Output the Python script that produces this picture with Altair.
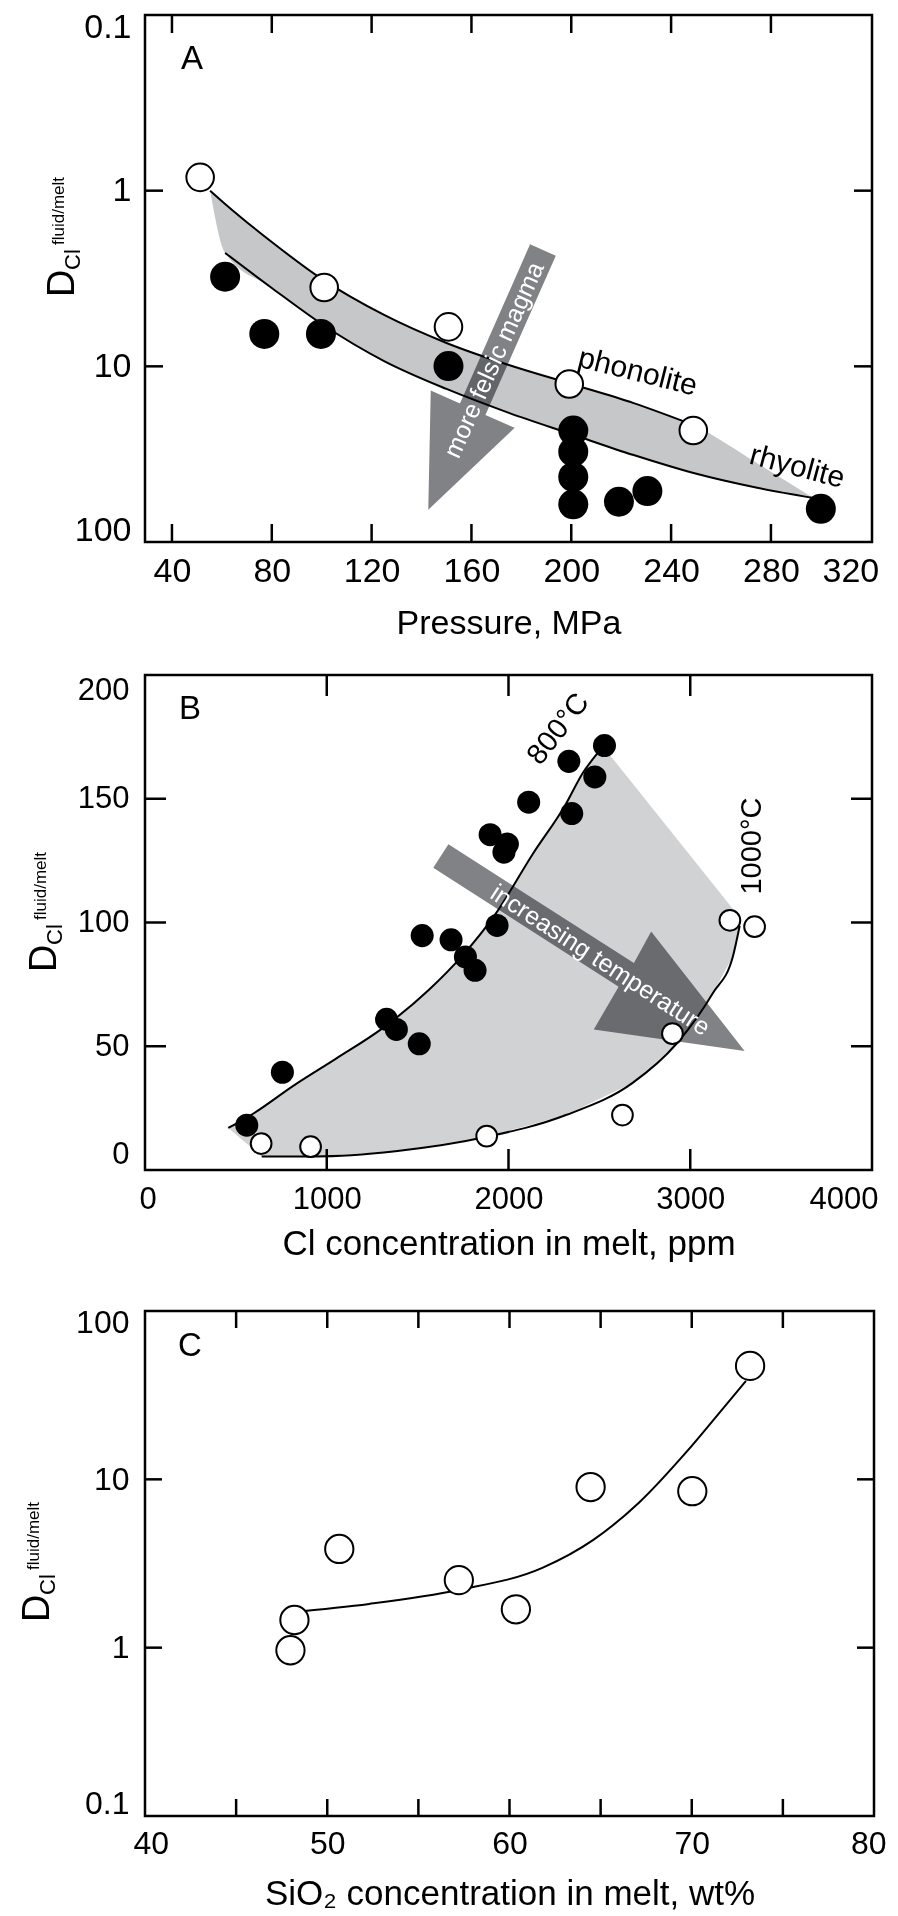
import altair as alt
import pandas as pd

FONT = "Liberation Sans, Arial, Helvetica, sans-serif"
ARROW = "#808285"
LW = 2.5

# ---------------- Panel A data ----------------
a_open_p = [51.3, 101.0, 150.8, 199.2, 248.9]
a_open_d = [0.84, 3.56, 5.96, 12.6, 23.2]
a_fill_p = [61.3, 77.0, 99.7, 150.8, 200.8, 200.8, 200.8, 200.8, 219.1, 230.5, 300.0]
a_fill_d = [3.09, 6.54, 6.54, 9.96, 23.2, 30.6, 42.6, 61.0, 59.0, 51.3, 64.7]
a_band_p = [55.3, 61.3, 80, 100, 125, 150, 175, 200, 225, 249, 275, 297]
a_band_up = [1.00, 1.19, 1.96, 3.18, 5.10, 7.36, 9.83, 12.6, 16.2, 21.6, 36.0, 56.2]
a_band_lo = [1.00, 2.26, 3.58, 5.74, 9.33, 13.45, 18.4, 24.3, 32.0, 40.5, 49.3, 56.2]
a_arrow_p = [193.8, 183.5, 155.4, 143.7, 142.7, 177.3, 165.6, 193.8]
a_arrow_d = [2.345, 2.018, 16.27, 13.74, 65.6, 22.4, 18.9, 2.345]
a_xticks = [40, 80, 120, 160, 200, 240, 280]
a_xlabels = [40, 80, 120, 160, 200, 240, 280, 320]
a_yticks = [1, 10]
a_ylabels = [0.1, 1, 10, 100]

# ---------------- Panel B data ----------------
b_fill_x = [560, 756, 1329, 1383, 1509, 1525, 1684, 1763, 1816, 1899, 1994, 1975, 1937, 2111, 2332, 2348, 2475, 2528]
b_fill_y = [18.1, 39.5, 60.9, 56.8, 51.0, 94.7, 93.0, 86.1, 80.7, 135.5, 131.7, 128.4, 98.8, 148.6, 165.1, 144.0, 158.8, 171.5]
b_open_x = [639, 911, 1880, 2627, 2902, 3218, 3354]
b_open_y = [10.7, 9.4, 13.7, 22.2, 55.1, 100.9, 98.3]
b_800_x = [458, 568, 826, 1047, 1304, 1561, 1745, 1929, 2131, 2316, 2407, 2490]
b_800_y = [17.0, 21.5, 34.5, 44.8, 57.1, 72.7, 86.5, 103.5, 127.4, 147.9, 160.2, 168.4]
b_1000_x = [642, 936, 1378, 1874, 2316, 2683, 2923, 3124, 3235, 3272]
b_1000_y = [5.5, 5.5, 7.6, 13.3, 22.2, 35.2, 50.9, 71.4, 86.4, 98.7]
b_edge_x = [2554, 3235]
b_edge_y = [168.0, 105.5]
b_arrow_x = [1669.5, 2690, 2785, 3299, 2469, 2606, 1586, 1669.5]
b_arrow_y = [131.6, 83.6, 96.4, 48.1, 56.8, 74.0, 122.1, 131.6]
b_xticks = [1000, 2000, 3000]
b_xlabels = [0, 1000, 2000, 3000, 4000]
b_yticks = [50, 100, 150]
b_ylabels = [0, 50, 100, 150, 200]

# ---------------- Panel C data ----------------
c_x = [73.2, 64.45, 70.03, 50.66, 57.22, 60.35, 48.2, 47.98]
c_y = [47.2, 9.0, 8.5, 3.86, 2.52, 1.69, 1.46, 0.965]
c_fit_x = [47.9, 52.3, 57.2, 61.8, 64.6, 67.1, 69.65, 71.55, 72.97]
c_fit_y = [1.62, 1.82, 2.2, 2.98, 4.37, 7.26, 14.3, 25.1, 38.4]
c_xticks = [45, 50, 55, 60, 65, 70, 75]
c_xlabels = [40, 50, 60, 70, 80]
c_yticks = [1, 10]
c_ylabels = [0.1, 1, 10, 100]

DUMMY = pd.DataFrame({"k": [0]})


def xaxis(values, title, lsize, tsize, pad, tpad, flush, flush_off):
    return alt.Axis(values=values, title=title, labelFontSize=lsize, titleFontSize=tsize,
                    labelPadding=pad, titlePadding=tpad, ticks=False, tickSize=0, domain=False,
                    grid=False, labelFont=FONT, titleFont=FONT, labelColor="black",
                    titleColor="black", titleFontWeight="normal", labelOverlap=False,
                    labelFlush=flush, labelFlushOffset=flush_off, format="d")


def yaxis(values, lsize, pad, flush, flush_off, fmt):
    return alt.Axis(values=values, title=None, labelFontSize=lsize, labelPadding=pad,
                    ticks=False, tickSize=0, domain=False, grid=False, labelFont=FONT,
                    labelColor="black", labelOverlap=False, labelFlush=flush,
                    labelFlushOffset=flush_off, format=fmt)


def tick_layers(xt, yt, X, Y, W, H, L):
    dx = pd.DataFrame({"tx": xt})
    dy = pd.DataFrame({"ty": yt})
    r = dict(color="black", strokeWidth=LW)
    return [
        alt.Chart(dx).mark_rule(**r).encode(x=X("tx"), y=alt.value(H), y2=alt.value(H - L)),
        alt.Chart(dx).mark_rule(**r).encode(x=X("tx"), y=alt.value(0), y2=alt.value(L)),
        alt.Chart(dy).mark_rule(**r).encode(y=Y("ty"), x=alt.value(0), x2=alt.value(L)),
        alt.Chart(dy).mark_rule(**r).encode(y=Y("ty"), x=alt.value(W), x2=alt.value(W - L)),
    ]


def frame(W, H):
    return alt.Chart(DUMMY).mark_rect(filled=False, fillOpacity=0, stroke="black", strokeWidth=LW).encode(
        x=alt.value(0), x2=alt.value(W), y=alt.value(0), y2=alt.value(H))


def ytitle(dx, dy):
    # D with subscript "Cl" and superscript "fluid/melt", rotated
    t = dict(font=FONT, color="black", angle=270, align="left", baseline="alphabetic")
    return [
        alt.Chart(DUMMY).mark_text(text="D", fontSize=38, **t).encode(x=alt.value(dx), y=alt.value(dy)),
        alt.Chart(DUMMY).mark_text(text="Cl", fontSize=22, **t).encode(x=alt.value(dx + 6), y=alt.value(dy - 27)),
        alt.Chart(DUMMY).mark_text(text="fluid/melt", fontSize=17, **t).encode(
            x=alt.value(dx - 10), y=alt.value(dy - 52)),
    ]


def letter(s, x, y):
    return alt.Chart(DUMMY).mark_text(text=s, font=FONT, fontSize=33, color="black").encode(
        x=alt.value(x), y=alt.value(y))


def anchor_x(x):
    return alt.Chart(DUMMY).mark_rule(opacity=0).encode(x=alt.value(x), y=alt.value(0), y2=alt.value(5))


def anchor_y(y):
    return alt.Chart(DUMMY).mark_rule(opacity=0).encode(x=alt.value(0), x2=alt.value(5), y=alt.value(y))


# ================= Panel A =================
WA, HA = 727, 527
sxA = alt.Scale(domain=[29.2, 320.5], nice=False, zero=False)
syA = alt.Scale(type="log", domain=[0.1, 100], reverse=True, nice=False)
axA_x = xaxis(a_xlabels, "Pressure, MPa", 34, 34, 12, 18, 3, 8)
axA_y = yaxis(a_ylabels, 34, 14, 1, 5, ".1~f")


def XA(f):
    return alt.X(f, type="quantitative", scale=sxA, axis=axA_x)


def YA(f):
    return alt.Y(f, type="quantitative", scale=syA, axis=axA_y)


bandA = pd.DataFrame({"p": a_band_p, "up": a_band_up, "lo": a_band_lo})
phonA = pd.DataFrame({"p": a_band_p[:10], "d": a_band_up[:10]})
rhyoA = pd.DataFrame({"p": a_band_p[1:], "d": a_band_lo[1:]})
arrA = pd.DataFrame({"p": a_arrow_p, "d": a_arrow_d, "i": list(range(len(a_arrow_p)))})
openA = pd.DataFrame({"p": a_open_p, "d": a_open_d})
fillA = pd.DataFrame({"p": a_fill_p, "d": a_fill_d})

layersA = [
    alt.Chart(bandA).mark_area(color="#c6c7c9", interpolate="monotone").encode(x=XA("p"), y=YA("up"), y2="lo:Q"),
    alt.Chart(arrA).mark_line(filled=True, color=ARROW, blend="multiply", strokeWidth=0).encode(
        x=XA("p"), y=YA("d"), order="i:Q"),
    alt.Chart(phonA).mark_line(color="black", strokeWidth=2, interpolate="monotone").encode(x=XA("p"), y=YA("d")),
    alt.Chart(rhyoA).mark_line(color="black", strokeWidth=2, interpolate="monotone").encode(x=XA("p"), y=YA("d")),
    alt.Chart(fillA).mark_circle(color="black", size=900, opacity=1).encode(x=XA("p"), y=YA("d")),
    alt.Chart(openA).mark_circle(color="white", stroke="black", strokeWidth=2, size=760, opacity=1).encode(
        x=XA("p"), y=YA("d")),
    alt.Chart(pd.DataFrame({"p": [169.1], "d": [9.2]})).mark_text(
        text="more felsic magma", font=FONT, fontSize=25, color="white", angle=294, baseline="middle").encode(
        x=XA("p"), y=YA("d")),
    alt.Chart(pd.DataFrame({"p": [226.6], "d": [10.8]})).mark_text(
        text="phonolite", font=FONT, fontSize=30, color="black", angle=14, baseline="middle").encode(
        x=XA("p"), y=YA("d")),
    alt.Chart(pd.DataFrame({"p": [290.5], "d": [37.4]})).mark_text(
        text="rhyolite", font=FONT, fontSize=30, color="black", angle=15, baseline="middle").encode(
        x=XA("p"), y=YA("d")),
    letter("A", 47, 44),
    anchor_y(-7),
    anchor_y(658),
    anchor_x(-137),
] + tick_layers(a_xticks, a_yticks, XA, YA, WA, HA, 18) + ytitle(-71, 282) + [frame(WA, HA)]

panelA = alt.layer(*layersA).properties(width=WA, height=HA)

# ================= Panel B =================
WB, HB = 727, 495
sxB = alt.Scale(domain=[0, 4000], nice=False, zero=False)
syB = alt.Scale(domain=[0, 200], nice=False, zero=False)
axB_x = xaxis(b_xlabels, "Cl concentration in melt, ppm", 31, 35, 14, 12, 1, 6)
axB_y = yaxis(b_ylabels, 31, 16, 1, 0, "d")


def XB(f):
    return alt.X(f, type="quantitative", scale=sxB, axis=axB_x)


def YB(f):
    return alt.Y(f, type="quantitative", scale=syB, axis=axB_y)


# grey region outline: 800 C curve, straight upper-right edge, 1000 C curve back
poly_x = b_800_x + b_edge_x + b_1000_x[::-1] + b_800_x[:1]
poly_y = b_800_y + b_edge_y + b_1000_y[::-1] + b_800_y[:1]
regionB = pd.DataFrame({"x": poly_x, "y": poly_y, "i": list(range(len(poly_x)))})
c800 = pd.DataFrame({"x": b_800_x, "y": b_800_y})
c1000 = pd.DataFrame({"x": b_1000_x, "y": b_1000_y})
arrB = pd.DataFrame({"x": b_arrow_x, "y": b_arrow_y, "i": list(range(len(b_arrow_x)))})
fillB = pd.DataFrame({"x": b_fill_x, "y": b_fill_y})
openB = pd.DataFrame({"x": b_open_x, "y": b_open_y})
GREYB = "#d1d2d4"

layersB = [
    alt.Chart(regionB).mark_line(filled=True, color=GREYB, strokeWidth=0).encode(
        x=XB("x"), y=YB("y"), order="i:Q"),
    alt.Chart(arrB).mark_line(filled=True, color=ARROW, blend="multiply", strokeWidth=0).encode(
        x=XB("x"), y=YB("y"), order="i:Q"),
    alt.Chart(c800).mark_line(color="black", strokeWidth=2, interpolate="monotone").encode(x=XB("x"), y=YB("y")),
    alt.Chart(c1000).mark_line(color="black", strokeWidth=2, interpolate="monotone").encode(x=XB("x"), y=YB("y")),
    alt.Chart(fillB).mark_circle(color="black", size=530, opacity=1).encode(x=XB("x"), y=YB("y")),
    alt.Chart(openB).mark_circle(color="white", stroke="black", strokeWidth=2, size=430, opacity=1).encode(
        x=XB("x"), y=YB("y")),
    alt.Chart(pd.DataFrame({"x": [2505], "y": [84.8]})).mark_text(
        text="increasing temperature", font=FONT, fontSize=25, color="white", angle=33, baseline="middle").encode(
        x=XB("x"), y=YB("y")),
    alt.Chart(pd.DataFrame({"x": [2273], "y": [178.2]})).mark_text(
        text="800°C", font=FONT, fontSize=29, color="black", angle=308, baseline="middle").encode(
        x=XB("x"), y=YB("y")),
    alt.Chart(pd.DataFrame({"x": [3338], "y": [130.9]})).mark_text(
        text="1000°C", font=FONT, fontSize=29, color="black", angle=270, baseline="middle").encode(
        x=XB("x"), y=YB("y")),
    letter("B", 45, 34),
    anchor_y(626),
    anchor_x(-137),
] + tick_layers(b_xticks, b_yticks, XB, YB, WB, HB, 21) + ytitle(-89, 297) + [frame(WB, HB)]

panelB = alt.layer(*layersB).properties(width=WB, height=HB)

# ================= Panel C =================
WC, HC = 729, 505
sxC = alt.Scale(domain=[40, 80], nice=False, zero=False)
syC = alt.Scale(type="log", domain=[0.1, 100], nice=False)
axC_x = xaxis(c_xlabels, "SiO₂ concentration in melt, wt%", 32, 35, 12, 17, 1, 12)
axC_y = yaxis(c_ylabels, 32, 16, 1, 4, ".1~f")


def XC(f):
    return alt.X(f, type="quantitative", scale=sxC, axis=axC_x)


def YC(f):
    return alt.Y(f, type="quantitative", scale=syC, axis=axC_y)


ptsC = pd.DataFrame({"x": c_x, "y": c_y})
fitC = pd.DataFrame({"x": c_fit_x, "y": c_fit_y})

layersC = [
    alt.Chart(fitC).mark_line(color="black", strokeWidth=2, interpolate="monotone").encode(x=XC("x"), y=YC("y")),
    alt.Chart(ptsC).mark_circle(color="white", stroke="black", strokeWidth=2, size=800, opacity=1).encode(
        x=XC("x"), y=YC("y")),
    letter("C", 45, 35),
    anchor_y(-10),
    anchor_x(-137),
] + tick_layers(c_xticks, c_yticks, XC, YC, WC, HC, 17) + ytitle(-96, 311) + [frame(WC, HC)]

panelC = alt.layer(*layersC).properties(width=WC, height=HC)

chart = alt.vconcat(panelA, panelB, panelC, spacing=0).properties(
    padding={"left": 0, "top": 0, "right": 0, "bottom": 0}
).configure_view(stroke=None)

chart.save("out.html", embed_options={"renderer": "svg", "actions": False})
